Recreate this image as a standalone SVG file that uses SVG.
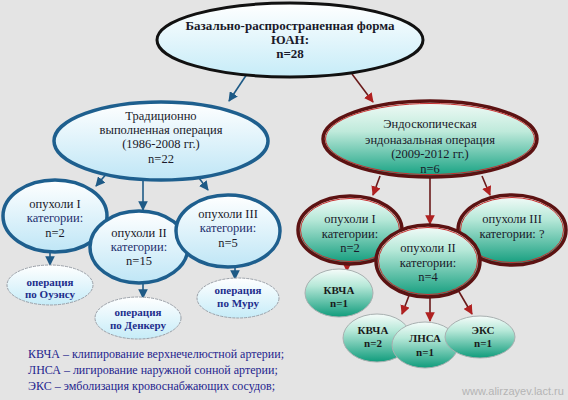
<svg xmlns="http://www.w3.org/2000/svg" width="568" height="400" viewBox="0 0 568 400" font-family="'Liberation Serif', 'Times New Roman', 'DejaVu Serif', serif">
<defs>
<linearGradient id="gBlue" x1="0" y1="0" x2="0" y2="1">
<stop offset="0" stop-color="#ffffff"/>
<stop offset="1" stop-color="#bfe6f6"/>
</linearGradient>
<linearGradient id="gBlueL" x1="0" y1="0" x2="0" y2="1">
<stop offset="0" stop-color="#ffffff"/>
<stop offset="1" stop-color="#c6ecf8"/>
</linearGradient>
<linearGradient id="gTeal" x1="0" y1="0" x2="0" y2="1">
<stop offset="0" stop-color="#f2fbf7"/>
<stop offset="0.4" stop-color="#bfeadb"/>
<stop offset="1" stop-color="#12a080"/>
</linearGradient>
<linearGradient id="gTeal2" x1="0" y1="0" x2="0" y2="1">
<stop offset="0" stop-color="#f6fcfa"/>
<stop offset="0.35" stop-color="#b6e8d8"/>
<stop offset="1" stop-color="#109c7c"/>
</linearGradient>
<marker id="aBlue" viewBox="0 0 10 10" refX="9" refY="5" markerWidth="6" markerHeight="6" orient="auto">
<path d="M0,0 L10,5 L0,10 z" fill="#1e5a86"/>
</marker>
<marker id="aRed" viewBox="0 0 10 10" refX="9" refY="5" markerWidth="6" markerHeight="6" orient="auto">
<path d="M0,0 L10,5 L0,10 z" fill="#b02020"/>
</marker>
</defs>
<style>
text{font-family:'Liberation Serif','Times New Roman',serif;text-anchor:middle;fill:#1a1a2a}
.top{font-size:13px;font-weight:bold}
.mid{font-size:12.5px}
.l3{font-size:12.5px}
.l4{font-size:11px;font-weight:bold;fill:#1e2e8c}
.r4{font-size:11px;font-weight:bold;fill:#1a1a1a}
.leg{font-size:12px;text-anchor:start;fill:#24248e}
.wm{font-size:11px;text-anchor:start;fill:#b4b4b4;font-family:'Liberation Sans',sans-serif}
.bl{stroke:#1e5f8e;stroke-width:3.5}
.bl4{stroke:#9aa0a8;stroke-width:1;stroke-dasharray:3 1}
.rd{stroke:#5c1212;stroke-width:3.5}
.rdi{fill:none;stroke:#c83030;stroke-width:1}
.cb{stroke:#1e5a86;stroke-width:1.6;fill:none;marker-end:url(#aBlue)}
.cr{stroke:#6a1a1a;stroke-width:1.6;fill:none;marker-end:url(#aRed)}
</style>
<rect width="568" height="400" fill="#e4e4e4"/>

<g id="connectors">
<line class="cb" x1="247" y1="74" x2="229" y2="101"/>
<line class="cr" x1="352" y1="74" x2="373" y2="102"/>
<line class="cb" x1="108" y1="172" x2="96" y2="186"/>
<line class="cb" x1="143" y1="180" x2="143" y2="210"/>
<line class="cb" x1="196" y1="174" x2="208" y2="190"/>
<line class="cb" x1="50" y1="252" x2="50" y2="265"/>
<line class="cb" x1="143" y1="283" x2="143" y2="298"/>
<line class="cb" x1="235" y1="267" x2="235" y2="279"/>
<line class="cr" x1="380" y1="176" x2="373" y2="195"/>
<line class="cr" x1="430" y1="178" x2="430" y2="224"/>
<line class="cr" x1="482" y1="176" x2="490" y2="195"/>
<line class="cr" x1="347" y1="262" x2="347" y2="271"/>
<line class="cr" x1="410" y1="293" x2="402" y2="314"/>
<line class="cr" x1="430" y1="297" x2="430" y2="321"/>
<line class="cr" x1="458" y1="290" x2="472" y2="314"/>
</g>

<g id="root">
<ellipse cx="290" cy="40" rx="133" ry="37" fill="url(#gBlueL)" stroke="#111" stroke-width="3"/>
<text class="top" x="290" y="30">Базально-распространенная форма</text>
<text class="top" x="290" y="44">ЮАН:</text>
<text class="top" x="290" y="58">n=28</text>
</g>

<g id="trad">
<ellipse cx="161" cy="141" rx="107" ry="39" fill="url(#gBlue)" class="bl"/>
<text class="mid" x="161" y="120">Традиционно</text>
<text class="mid" x="161" y="134">выполненная операция</text>
<text class="mid" x="161" y="148">(1986-2008 гг.)</text>
<text class="mid" x="161" y="163">n=22</text>
</g>

<g id="endo">
<ellipse cx="430" cy="139" rx="107" ry="38" fill="url(#gTeal)" class="rd"/>
<ellipse cx="430" cy="139" rx="104.5" ry="35.5" class="rdi"/>
<text class="mid" x="430" y="128">Эндоскопическая</text>
<text class="mid" x="430" y="144">эндоназальная операция</text>
<text class="mid" x="430" y="158">(2009-2012 гг.)</text>
<text class="mid" x="430" y="173">n=6</text>
</g>

<g id="l-cat1">
<ellipse cx="55" cy="216" rx="52" ry="36" fill="url(#gBlue)" class="bl"/>
<text class="l3" x="55" y="208">опухоли I</text>
<text class="l3" x="55" y="222" style="fill:#24306e">категории:</text>
<text class="l3" x="55" y="237">n=2</text>
</g>
<g id="l-cat2">
<ellipse cx="139" cy="247" rx="49" ry="36" fill="url(#gBlue)" class="bl"/>
<text class="l3" x="139" y="237">опухоли II</text>
<text class="l3" x="139" y="251" style="fill:#24306e">категории:</text>
<text class="l3" x="139" y="265">n=15</text>
</g>
<g id="l-cat3">
<ellipse cx="228" cy="231" rx="52" ry="36" fill="url(#gBlue)" class="bl"/>
<text class="l3" x="228" y="218">опухоли III</text>
<text class="l3" x="228" y="232" style="fill:#24306e">категории:</text>
<text class="l3" x="228" y="247">n=5</text>
</g>

<g id="owens">
<ellipse cx="50" cy="285" rx="43" ry="20" fill="url(#gBlueL)" class="bl4"/>
<text class="l4" x="50" y="286">операция</text>
<text class="l4" x="50" y="298">по Оуэнсу</text>
</g>
<g id="denker">
<ellipse cx="138" cy="318" rx="43" ry="21" fill="url(#gBlueL)" class="bl4"/>
<text class="l4" x="138" y="316">операция</text>
<text class="l4" x="138" y="329">по Денкеру</text>
</g>
<g id="moore">
<ellipse cx="238" cy="298" rx="41" ry="20" fill="url(#gBlueL)" class="bl4"/>
<text class="l4" x="238" y="294">операция</text>
<text class="l4" x="238" y="307">по Муру</text>
</g>

<g id="r-cat1">
<ellipse cx="350" cy="230" rx="52" ry="34" fill="url(#gTeal2)" class="rd"/>
<ellipse cx="350" cy="230" rx="49.5" ry="31.5" class="rdi"/>
<text class="l3" x="350" y="223">опухоли I</text>
<text class="l3" x="350" y="238">категории:</text>
<text class="l3" x="350" y="252">n=2</text>
</g>
<g id="r-cat3">
<ellipse cx="512" cy="230" rx="54" ry="35" fill="url(#gTeal2)" class="rd"/>
<ellipse cx="512" cy="230" rx="51.5" ry="32.5" class="rdi"/>
<text class="l3" x="512" y="223">опухоли III</text>
<text class="l3" x="512" y="238">категории: ?</text>
</g>
<g id="r-cat2">
<ellipse cx="428" cy="261" rx="52" ry="36" fill="url(#gTeal2)" class="rd"/>
<ellipse cx="428" cy="261" rx="49.5" ry="33.5" class="rdi"/>
<text class="l3" x="428" y="252">опухоли II</text>
<text class="l3" x="428" y="267">категории:</text>
<text class="l3" x="428" y="281">n=4</text>
</g>

<g id="kvcha1">
<ellipse cx="339" cy="293" rx="34" ry="24" fill="url(#gTeal2)" stroke="#a8b0b0" stroke-width="1"/>
<text class="r4" x="339" y="294">КВЧА</text>
<text class="r4" x="339" y="307">n=1</text>
</g>
<g id="kvcha2">
<ellipse cx="377" cy="338" rx="34" ry="24" fill="url(#gTeal2)" stroke="#a8b0b0" stroke-width="1"/>
<text class="r4" x="373" y="334">КВЧА</text>
<text class="r4" x="373" y="347">n=2</text>
</g>
<g id="lnsa">
<ellipse cx="425" cy="345" rx="33" ry="23" fill="url(#gTeal2)" stroke="#a8b0b0" stroke-width="1"/>
<text class="r4" x="425" y="342">ЛНСА</text>
<text class="r4" x="425" y="356">n=1</text>
</g>
<g id="eks">
<ellipse cx="480" cy="337" rx="35" ry="21" fill="url(#gTeal2)" stroke="#a8b0b0" stroke-width="1"/>
<text class="r4" x="483" y="334">ЭКС</text>
<text class="r4" x="483" y="347">n=1</text>
</g>

<g id="legend">
<text class="leg" x="28" y="358">КВЧА – клипирование верхнечелюстной артерии;</text>
<text class="leg" x="28" y="374">ЛНСА – лигирование наружной сонной артерии;</text>
<text class="leg" x="28" y="390">ЭКС – эмболизация кровоснабжающих сосудов;</text>
</g>
<text class="wm" x="462" y="395">www.alirzayev.lact.ru</text>
</svg>
